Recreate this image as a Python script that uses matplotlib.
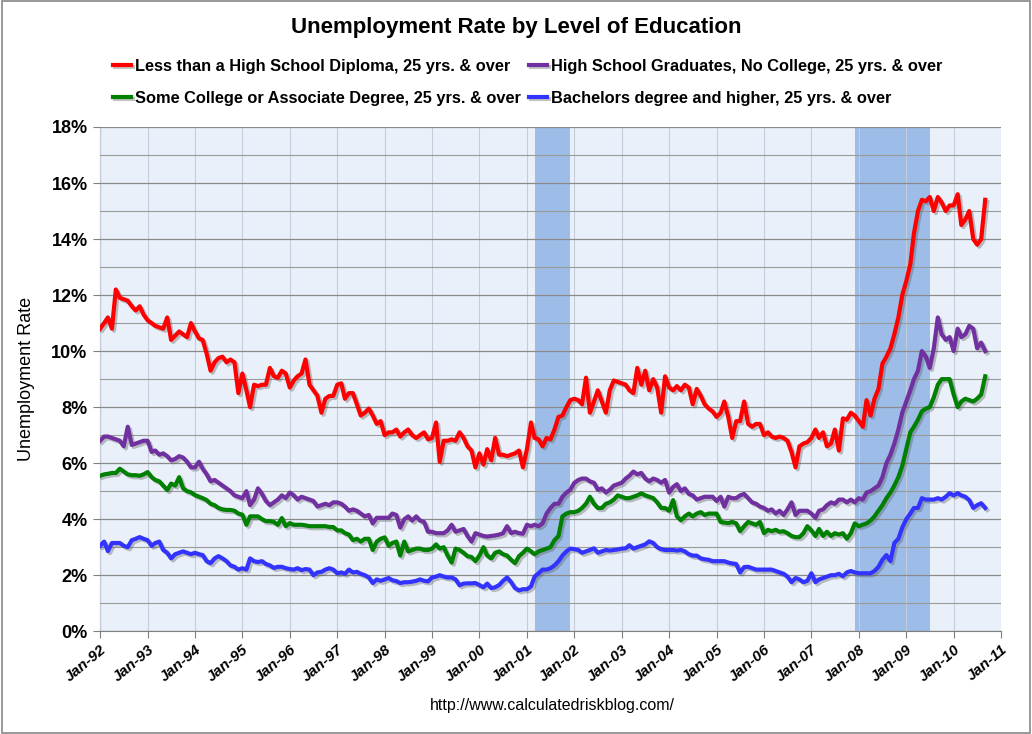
import matplotlib
matplotlib.use("Agg")
import matplotlib.pyplot as plt
import matplotlib.dates as mdates
import matplotlib.patheffects as pe
from matplotlib.ticker import MultipleLocator, FuncFormatter
import pandas as pd

plt.rcParams['font.family'] = ['Liberation Sans', 'DejaVu Sans']

# monthly values, Jan 1992 - Sep 2010 (one row per year)
less_hs = [
    10.8, 11.0, 11.2, 10.8, 12.2, 11.9, 11.85, 11.8, 11.6, 11.45, 11.6, 11.3,
    11.1, 11.0, 10.9, 10.85, 10.8, 11.2, 10.4, 10.55, 10.7, 10.6, 10.5, 11.0,
    10.7, 10.45, 10.4, 9.9, 9.3, 9.6, 9.75, 9.8, 9.6, 9.7, 9.6, 8.5,
    9.2, 8.6, 8.0, 8.8, 8.75, 8.8, 8.8, 9.4, 9.1, 9.05, 9.3, 9.2,
    8.7, 8.95, 9.1, 9.2, 9.7, 8.8, 8.6, 8.4, 7.8, 8.3, 8.4, 8.4,
    8.8, 8.85, 8.3, 8.5, 8.5, 8.1, 7.7, 7.8, 7.95, 7.7, 7.4, 7.5,
    7.0, 7.1, 7.1, 7.2, 6.95, 7.1, 7.2, 7.0, 6.9, 7.0, 7.1, 6.85,
    6.9, 7.45, 6.05, 6.8, 6.8, 6.85, 6.8, 7.1, 6.9, 6.6, 6.45, 5.85,
    6.35, 5.95, 6.5, 6.1, 6.9, 6.3, 6.3, 6.25, 6.3, 6.35, 6.45, 5.85,
    6.5, 7.45, 6.9, 6.85, 6.6, 6.9, 6.85, 7.2, 7.65, 7.7, 8.0, 8.25,
    8.3, 8.25, 8.1, 9.05, 7.8, 8.2, 8.6, 8.2, 7.8, 8.6, 8.95, 8.9,
    8.85, 8.8, 8.6, 8.5, 9.4, 8.8, 9.3, 8.6, 9.0, 8.7, 7.8, 9.1,
    8.7, 8.6, 8.75, 8.6, 8.8, 8.7, 8.1, 8.65, 8.4, 8.1, 7.95, 7.85,
    7.65, 7.8, 8.2, 7.65, 6.9, 7.5, 7.5, 8.2, 7.4, 7.3, 7.4, 7.4,
    7.0, 7.1, 6.95, 6.9, 6.95, 6.9, 6.8, 6.4, 5.85, 6.6, 6.7, 6.75,
    6.9, 7.2, 6.9, 7.1, 6.6, 6.7, 7.2, 6.45, 7.6, 7.55, 7.8, 7.7,
    7.5, 7.3, 8.25, 7.7, 8.3, 8.65, 9.55, 9.8, 10.1, 10.6, 11.2, 12.0,
    12.5, 13.1, 14.2, 15.0, 15.4, 15.35, 15.5, 15.0, 15.5, 15.3, 15.0, 15.2,
    15.2, 15.6, 14.5, 14.7, 15.0, 14.0, 13.8, 14.0, 15.4,
]

hs_grad = [
    6.8, 6.95, 6.95, 6.9, 6.85, 6.8, 6.6, 7.3, 6.65, 6.7, 6.75, 6.8,
    6.8, 6.4, 6.45, 6.3, 6.35, 6.25, 6.1, 6.15, 6.25, 6.2, 6.05, 5.85,
    5.85, 6.05, 5.8, 5.6, 5.35, 5.4, 5.3, 5.2, 5.1, 5.0, 4.85, 4.8,
    4.75, 5.0, 4.5, 4.7, 5.1, 4.9, 4.65, 4.5, 4.6, 4.7, 4.85, 4.75,
    4.95, 4.85, 4.7, 4.8, 4.75, 4.7, 4.65, 4.45, 4.5, 4.55, 4.5, 4.6,
    4.6, 4.55, 4.45, 4.3, 4.35, 4.3, 4.2, 4.1, 4.15, 3.85, 4.05, 4.05,
    4.05, 4.05, 4.2, 4.15, 3.7, 4.0, 4.1, 3.95, 4.1, 3.95, 3.9, 3.55,
    3.55, 3.5, 3.5, 3.5, 3.6, 3.8, 3.55, 3.6, 3.65, 3.4, 3.2, 3.5,
    3.45, 3.4, 3.38, 3.4, 3.42, 3.45, 3.5, 3.75, 3.5, 3.55, 3.5, 3.48,
    3.8, 3.75, 3.8, 3.75, 3.85, 4.2, 4.4, 4.55, 4.55, 4.8, 4.95, 5.05,
    5.3, 5.4, 5.45, 5.45, 5.35, 5.3, 5.05, 5.1, 4.95, 5.05, 5.2, 5.25,
    5.3, 5.45, 5.55, 5.7, 5.6, 5.65, 5.45, 5.35, 5.45, 5.4, 5.3, 5.4,
    4.95, 5.15, 5.25, 5.0, 5.1, 4.9, 4.85, 4.7, 4.75, 4.8, 4.8, 4.8,
    4.65, 4.8, 4.45, 4.8, 4.75, 4.75, 4.85, 4.9, 4.75, 4.6, 4.55, 4.45,
    4.4, 4.3, 4.35, 4.2, 4.3, 4.15, 4.35, 4.6, 4.15, 4.3, 4.3, 4.3,
    4.2, 4.05, 4.3, 4.35, 4.5, 4.6, 4.55, 4.7, 4.7, 4.6, 4.7, 4.6,
    4.75, 4.7, 4.95, 5.0, 5.1, 5.2, 5.5, 6.0, 6.3, 6.7, 7.2, 7.8,
    8.2, 8.6, 9.0, 9.3, 10.0, 9.8, 9.4, 10.1, 11.2, 10.6, 10.4, 10.5,
    10.0, 10.8, 10.5, 10.6, 10.9, 10.8, 10.1, 10.3, 10.0,
]

some_college = [
    5.55, 5.6, 5.62, 5.65, 5.65, 5.8, 5.7, 5.6, 5.57, 5.57, 5.55, 5.6,
    5.68, 5.5, 5.4, 5.35, 5.2, 5.04, 5.27, 5.2, 5.5, 5.1, 5.0, 4.96,
    4.86, 4.8, 4.75, 4.68, 4.55, 4.5, 4.4, 4.35, 4.33, 4.33, 4.3, 4.2,
    4.16, 3.8, 4.1, 4.1, 4.1, 4.0, 3.93, 3.93, 3.9, 3.8, 4.04, 3.75,
    3.86, 3.8, 3.8, 3.8, 3.78, 3.75, 3.75, 3.75, 3.75, 3.75, 3.72, 3.72,
    3.6, 3.6, 3.5, 3.45, 3.25, 3.3, 3.2, 3.3, 3.3, 2.9, 3.2, 3.3,
    3.35, 3.05, 3.15, 3.2, 2.7, 3.2, 2.85, 2.9, 2.95, 2.95, 2.9, 2.9,
    2.95, 3.1, 2.95, 3.0, 2.7, 2.45, 2.95, 2.9, 2.8, 2.68, 2.65, 2.5,
    2.7, 3.0, 2.7, 2.6, 2.8, 2.85, 2.75, 2.7, 2.55, 2.43, 2.68, 2.8,
    2.95, 2.85, 2.75, 2.85, 2.9, 2.95, 3.0, 3.25, 3.4, 4.1, 4.2, 4.25,
    4.25, 4.3, 4.4, 4.55, 4.8, 4.55, 4.4, 4.4, 4.55, 4.6, 4.7, 4.85,
    4.8, 4.75, 4.75, 4.8, 4.85, 4.92, 4.85, 4.8, 4.75, 4.6, 4.4, 4.4,
    4.3, 4.68, 4.1, 3.96, 4.1, 4.2, 4.1, 4.2, 4.25, 4.15, 4.2, 4.2,
    4.2, 3.9, 3.88, 3.86, 3.9, 3.85, 3.57, 3.75, 3.9, 3.85, 3.8, 3.9,
    3.5, 3.62, 3.57, 3.62, 3.55, 3.57, 3.5, 3.4, 3.36, 3.36, 3.5, 3.75,
    3.6, 3.4, 3.65, 3.4, 3.55, 3.4, 3.5, 3.45, 3.5, 3.3, 3.5, 3.85,
    3.75, 3.8, 3.85, 3.95, 4.1, 4.3, 4.5, 4.75, 4.95, 5.2, 5.5, 5.9,
    6.5, 7.1, 7.3, 7.55, 7.85, 7.95, 8.0, 8.35, 8.8, 9.0, 9.0, 9.0,
    8.45, 8.0, 8.2, 8.3, 8.25, 8.2, 8.3, 8.45, 9.1,
]

bachelors = [
    3.05, 3.2, 2.86, 3.15, 3.15, 3.15, 3.05, 3.0, 3.25, 3.3, 3.36, 3.3,
    3.25, 3.05, 3.15, 3.2, 2.9, 2.8, 2.6, 2.75, 2.8, 2.85, 2.8, 2.75,
    2.8, 2.75, 2.72, 2.5, 2.43, 2.6, 2.68, 2.6, 2.5, 2.35, 2.3, 2.2,
    2.25, 2.2, 2.6, 2.5, 2.47, 2.5, 2.4, 2.35, 2.26, 2.3, 2.3, 2.25,
    2.22, 2.2, 2.25, 2.18, 2.22, 2.2, 2.0, 2.1, 2.12, 2.2, 2.25, 2.2,
    2.07, 2.1, 2.05, 2.2, 2.1, 2.12, 2.05, 2.0, 1.92, 1.72, 1.85, 1.8,
    1.85, 1.9, 1.82, 1.79, 1.72, 1.75, 1.75, 1.77, 1.8, 1.85, 1.8, 1.78,
    1.92, 1.95, 2.0, 1.95, 1.92, 1.92, 1.85, 1.64, 1.7, 1.71, 1.71, 1.72,
    1.65, 1.57, 1.7, 1.54, 1.57, 1.65, 1.8, 1.92, 1.75, 1.54, 1.46, 1.5,
    1.5, 1.6, 1.95, 2.07, 2.2, 2.2, 2.25, 2.35, 2.5, 2.7, 2.85, 2.95,
    2.93, 2.9, 2.8, 2.85, 2.9, 2.96, 2.8, 2.85, 2.9, 2.88, 2.9, 2.92,
    2.95, 2.96, 3.07, 2.95, 3.0, 3.05, 3.1, 3.21, 3.15, 3.0, 2.93, 2.9,
    2.9, 2.9, 2.88, 2.9, 2.85, 2.75, 2.7, 2.7, 2.6, 2.57, 2.55, 2.5,
    2.5, 2.5, 2.5, 2.45, 2.42, 2.4, 2.1, 2.29, 2.3, 2.25, 2.2, 2.2,
    2.2, 2.2, 2.2, 2.15, 2.1, 2.05, 1.95, 1.75, 1.9, 1.85, 1.75, 1.8,
    2.07, 1.75, 1.85, 1.9, 1.95, 2.0, 2.0, 2.05, 1.96, 2.1, 2.15, 2.1,
    2.07, 2.07, 2.07, 2.07, 2.15, 2.3, 2.55, 2.72, 2.5, 3.15, 3.3, 3.7,
    4.0, 4.2, 4.4, 4.4, 4.75, 4.7, 4.7, 4.7, 4.75, 4.7, 4.8, 4.93,
    4.85, 4.93, 4.85, 4.8, 4.68, 4.4, 4.5, 4.57, 4.4,
]

series_names = [
    "Less than a High School Diploma, 25 yrs. & over",
    "High School Graduates, No College, 25 yrs. & over",
    "Some College or Associate Degree, 25 yrs. & over",
    "Bachelors degree and higher, 25 yrs. & over",
]
series_colors = ["#ff0000", "#7030a0", "#008000", "#3333ff"]

recessions = [("2001-03-01", "2001-11-30"), ("2007-12-01", "2009-06-30")]

dates = pd.date_range("1992-01-01", periods=len(less_hs), freq="MS")

fig = plt.figure(figsize=(10.32, 7.34), dpi=100)
fig.patch.set_facecolor("white")
ax = fig.add_axes([0.097, 0.140, 0.873, 0.687])
ax.set_facecolor("#e9f0f9")

for start, end in recessions:
    ax.axvspan(pd.Timestamp(start), pd.Timestamp(end), color="#9dbde8", zorder=1, lw=0)

shadow = [pe.SimpleLineShadow(offset=(1.5, -1.5), shadow_color="#555555", alpha=0.35),
          pe.Normal()]
all_series = [less_hs, hs_grad, some_college, bachelors]
handles = []
for vals, name, col in zip(all_series, series_names, series_colors):
    h, = ax.plot(dates, vals, color=col, lw=3.0, label=name, zorder=5,
                 solid_joinstyle="round", path_effects=shadow)
    handles.append(h)

ax.set_ylim(0, 18)
ax.set_xlim(pd.Timestamp("1992-01-01"), pd.Timestamp("2011-01-01"))
ax.yaxis.set_major_locator(MultipleLocator(2))
ax.yaxis.set_minor_locator(MultipleLocator(1))
ax.yaxis.set_major_formatter(FuncFormatter(lambda v, p: "%d%%" % v))
ax.xaxis.set_major_locator(mdates.YearLocator())
ax.xaxis.set_major_formatter(mdates.DateFormatter("%b-%y"))

ax.set_axisbelow(False)
ax.grid(True, which="major", axis="y", color="#8a8a8a", lw=0.9)
ax.grid(True, which="minor", axis="y", color="#9a9a9a", lw=0.8)
ax.grid(True, which="major", axis="x", color="#c3ccd8", lw=0.8)

for s in ["top", "right"]:
    ax.spines[s].set_visible(False)
for s in ["left", "bottom"]:
    ax.spines[s].set_color("#7f7f7f")
ax.tick_params(axis="y", which="major", length=5, color="#7f7f7f", labelsize=13, pad=4)
ax.tick_params(axis="y", which="minor", length=0)
ax.tick_params(axis="x", length=5, color="#7f7f7f", labelsize=11, pad=3)
for lab in ax.get_yticklabels():
    lab.set_fontweight("bold")
for lab in ax.get_xticklabels():
    lab.set_fontweight("bold")
    lab.set_fontstyle("italic")
    lab.set_rotation(40)
    lab.set_ha("right")
    lab.set_rotation_mode("anchor")

ax.set_ylabel("Unemployment Rate", fontsize=13, labelpad=12)

fig.text(0.5, 0.962, "Unemployment Rate by Level of Education", ha="center", va="center",
         fontsize=16, fontweight="bold")
# legend fills column-wise: reorder so rows read like the original
order = [0, 2, 1, 3]
fig.legend(handles=[handles[i] for i in order], labels=[series_names[i] for i in order],
           loc="upper left", bbox_to_anchor=(0.095, 0.94), ncol=2, frameon=False,
           handlelength=1.1, handletextpad=0.25, columnspacing=0.5, labelspacing=1.05,
           prop={"weight": "bold", "size": 11.8})
fig.text(0.535, 0.039, "http://www.calculatedriskblog.com/", ha="center", va="center",
         fontsize=11.5)

border = plt.Rectangle((0.002, 0.002), 0.996, 0.996, transform=fig.transFigure,
                       fill=False, edgecolor="#888888", lw=1.2)
fig.patches.append(border)

fig.savefig("out.png", dpi=100)
